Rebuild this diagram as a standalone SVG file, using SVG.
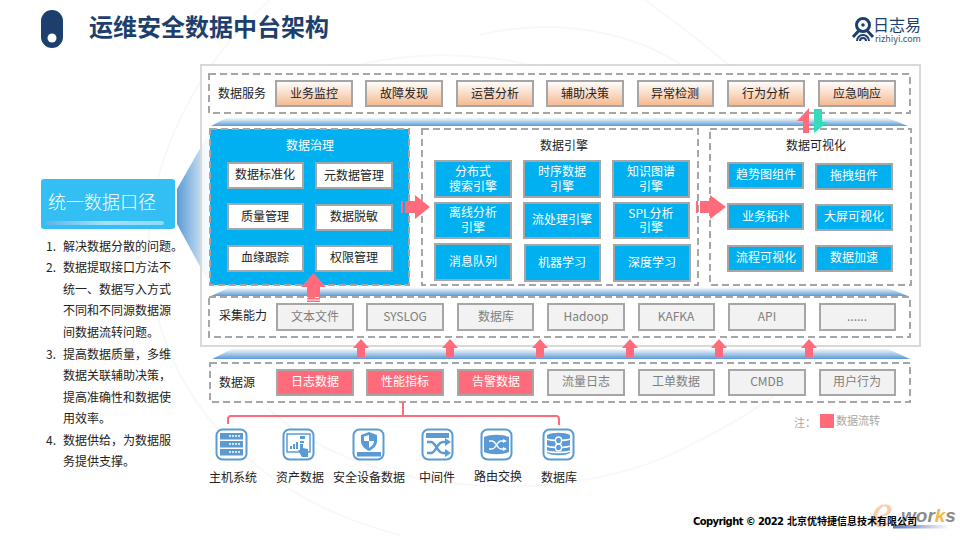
<svg xmlns="http://www.w3.org/2000/svg" width="960" height="540" viewBox="0 0 960 540">
<style>
text{font-family:"Noto Sans CJK SC","Noto Sans",sans-serif;font-size:12px;text-anchor:middle;fill:#222}
.dash{fill:none;stroke:#a6a6a6;stroke-width:2;stroke-dasharray:7 4}
.svc{fill:url(#svcG);stroke:#a6a6a6;stroke-width:2}
.col{fill:#f2f2f2;stroke:#a6a6a6;stroke-width:2}
.hot{fill:#ff6b7a;stroke:#a6a6a6;stroke-width:2}
.wht{fill:#fff;stroke:#a6a6a6;stroke-width:2}
.blu{fill:#00b0f0;stroke:#a6a6a6;stroke-width:2}
.g{fill:#7f7f7f}
.w{fill:#fff}
.l{text-anchor:start}
.flow{fill:#ff6b7a}
.ic{fill:#fff;stroke:#5b9bd5;stroke-width:2}
.if{fill:#5b9bd5}
.is{fill:none;stroke:#fff;stroke-width:1.4}
.bg{fill:none;stroke:#f8f8f8;stroke-width:2}
</style>
<defs>
<linearGradient id="svcG" x1="0" y1="0" x2="0" y2="1"><stop offset="0" stop-color="#fff"/><stop offset="1" stop-color="#f4b88e"/></linearGradient>
<linearGradient id="band" x1="0" y1="0" x2="0" y2="1"><stop offset="0" stop-color="#f4f8fc"/><stop offset="1" stop-color="#5b9bd5"/></linearGradient>
<linearGradient id="fun" x1="0" y1="0" x2="1" y2="0"><stop offset="0" stop-color="#5b9bd5"/><stop offset="1" stop-color="#e8f2fb"/></linearGradient>
<linearGradient id="bar" x1="0" y1="0" x2="1" y2="0"><stop offset="0" stop-color="#5fb4e6"/><stop offset=".5" stop-color="#a5e0fa"/><stop offset="1" stop-color="#8fd8f8"/></linearGradient>
<linearGradient id="ew" x1="0" y1="0" x2="1" y2="0"><stop offset="0" stop-color="#5a74b8"/><stop offset="1" stop-color="#fff"/></linearGradient>
<polygon id="up" points="0,0 8,9 4,9 4,18 -4,18 -4,9 -8,9" class="flow"/>
</defs>

<g id="background">
<path class="bg" d="M270 0C190 70 140 180 150 270C160 400 260 500 400 535"/>
<path class="bg" d="M320 75C430 40 560 50 640 120"/>
<path class="bg" d="M645 0C700 40 725 62 730 66"/>
<path class="bg" d="M260 400C340 490 560 520 700 440C760 410 800 380 830 340"/>
<path class="bg" d="M0 35C60 20 140 25 200 64" transform="translate(480 0)"/>
</g>

<g id="title">
<rect x="41" y="10" width="22" height="38" rx="11" fill="#1c3f6e"/>
<circle cx="52" cy="38" r="4.500" fill="#fff"/>
<text x="209" y="36" style="font-size:24px;font-weight:700;fill:#1c3f6e">运维安全数据中台架构</text>
</g>

<g id="logo">
<circle cx="863" cy="25" r="6.500" fill="none" stroke="#1c3f6e" stroke-width="3"/>
<circle cx="863" cy="25" r="1.800" fill="#1c3f6e"/>
<path d="M858.500 31L853 37M867.500 31L873 37" stroke="#1c3f6e" stroke-width="3" fill="none"/>
<path d="M857 41A6 6 0 0 1 869 41M860 41A3 3 0 0 1 866 41" fill="none" stroke="#1c3f6e" stroke-width="2"/>
<text x="897" y="31" style="font-size:16px;fill:#1c3f6e">日志易</text>
<text x="898" y="42" style="font-size:9px;fill:#44546a">rizhiyi.com</text>
</g>

<g id="callout">
<polygon points="177,189 210,131 210,285 177,224" fill="url(#fun)"/>
<rect x="41" y="179" width="134" height="50" rx="3" fill="#33bff3"/>
<rect x="45" y="221" width="119" height="4" rx="2" fill="url(#bar)"/>
<text x="102" y="209" style="font-size:18px;font-weight:300;fill:#fff">统一数据口径</text>
</g>

<g id="notes">
<text class="l" x="46" y="251">1.</text><text class="l" x="63" y="251">解决数据分散的问题。</text>
<text class="l" x="46" y="272">2.</text><text class="l" x="63" y="272">数据提取接口方法不</text>
<text class="l" x="63" y="294">统一、数据写入方式</text>
<text class="l" x="63" y="315">不同和不同源数据源</text>
<text class="l" x="63" y="337">间数据流转问题。</text>
<text class="l" x="46" y="359">3.</text><text class="l" x="63" y="359">提高数据质量，多维</text>
<text class="l" x="63" y="380">数据关联辅助决策，</text>
<text class="l" x="63" y="402">提高准确性和数据使</text>
<text class="l" x="63" y="423">用效率。</text>
<text class="l" x="46" y="445">4.</text><text class="l" x="63" y="445">数据供给，为数据服</text>
<text class="l" x="63" y="466">务提供支撑。</text>
</g>

<rect id="frame" x="201" y="65" width="719" height="281" fill="#fff" fill-opacity=".75" stroke="#d9d9d9" stroke-width="2"/>

<g id="bands">
<polygon points="226,118 888,118 908,126 211,126" fill="url(#band)"/>
<polygon points="228,288 888,288 908,296 211,296" fill="url(#band)"/>
<polygon points="232,349 888,349 910,359 212,359" fill="url(#band)"/>
</g>

<g id="data-service">
<rect class="dash" x="209" y="74" width="701" height="39"/>
<text x="242" y="98">数据服务</text>
<g id="s1"><rect class="svc" x="276" y="81" width="76" height="25"/><text x="314" y="98">业务监控</text></g>
<g id="s2"><rect class="svc" x="366" y="81" width="76" height="25"/><text x="404" y="98">故障发现</text></g>
<g id="s3"><rect class="svc" x="457" y="81" width="76" height="25"/><text x="495" y="98">运营分析</text></g>
<g id="s4"><rect class="svc" x="547" y="81" width="76" height="25"/><text x="585" y="98">辅助决策</text></g>
<g id="s5"><rect class="svc" x="638" y="81" width="75" height="25"/><text x="675" y="98">异常检测</text></g>
<g id="s6"><rect class="svc" x="728" y="81" width="76" height="25"/><text x="766" y="98">行为分析</text></g>
<g id="s7"><rect class="svc" x="819" y="81" width="76" height="25"/><text x="857" y="98">应急响应</text></g>
</g>

<g id="governance">
<rect x="210" y="129" width="199" height="156" fill="#00b0f0"/>
<rect class="dash" x="210" y="129" width="199" height="156"/>
<text class="w" x="310" y="150">数据治理</text>
<g id="g1"><rect class="wht" x="228" y="163" width="75" height="25"/><text x="265" y="179">数据标准化</text></g>
<g id="g2"><rect class="wht" x="316" y="163" width="76" height="25"/><text x="354" y="180">元数据管理</text></g>
<g id="g3"><rect class="wht" x="228" y="204" width="75" height="25"/><text x="265" y="221">质量管理</text></g>
<g id="g4"><rect class="wht" x="316" y="205" width="76" height="25"/><text x="354" y="221">数据脱敏</text></g>
<g id="g5"><rect class="wht" x="228" y="246" width="75" height="25"/><text x="265" y="262">血缘跟踪</text></g>
<g id="g6"><rect class="wht" x="316" y="246" width="76" height="25"/><text x="354" y="262">权限管理</text></g>
</g>

<g id="engine">
<rect class="dash" x="422" y="129" width="276" height="156"/>
<text x="564" y="150">数据引擎</text>
<g id="e1"><rect class="blu" x="435" y="161" width="76" height="36"/><text class="w" x="473" y="176">分布式</text><text class="w" x="473" y="191">搜索引擎</text></g>
<g id="e2"><rect class="blu" x="524" y="161" width="76" height="36"/><text class="w" x="562" y="176">时序数据</text><text class="w" x="562" y="191">引擎</text></g>
<g id="e3"><rect class="blu" x="613" y="161" width="76" height="36"/><text class="w" x="651" y="176">知识图谱</text><text class="w" x="651" y="191">引擎</text></g>
<g id="e4"><rect class="blu" x="435" y="203" width="76" height="35"/><text class="w" x="473" y="217">离线分析</text><text class="w" x="473" y="232">引擎</text></g>
<g id="e5"><rect class="blu" x="524" y="203" width="76" height="35"/><text class="w" x="562" y="224">流处理引擎</text></g>
<g id="e6"><rect class="blu" x="614" y="203" width="75" height="35"/><text class="w" x="651" y="218">SPL分析</text><text class="w" x="651" y="232">引擎</text></g>
<g id="e7"><rect class="blu" x="435" y="244" width="76" height="36"/><text class="w" x="473" y="266">消息队列</text></g>
<g id="e8"><rect class="blu" x="525" y="245" width="75" height="36"/><text class="w" x="562" y="267">机器学习</text></g>
<g id="e9"><rect class="blu" x="614" y="245" width="76" height="36"/><text class="w" x="652" y="267">深度学习</text></g>
</g>

<g id="visualization">
<rect class="dash" x="710" y="129" width="201" height="156"/>
<text x="816" y="150">数据可视化</text>
<g id="v1"><rect class="blu" x="728" y="163" width="75" height="25"/><text class="w" x="766" y="179">趋势图组件</text></g>
<g id="v2"><rect class="blu" x="816" y="164" width="76" height="25"/><text class="w" x="854" y="180">拖拽组件</text></g>
<g id="v3"><rect class="blu" x="728" y="204" width="75" height="25"/><text class="w" x="766" y="221">业务拓扑</text></g>
<g id="v4"><rect class="blu" x="816" y="205" width="76" height="25"/><text class="w" x="854" y="221">大屏可视化</text></g>
<g id="v5"><rect class="blu" x="728" y="246" width="75" height="25"/><text class="w" x="766" y="262">流程可视化</text></g>
<g id="v6"><rect class="blu" x="816" y="246" width="76" height="25"/><text class="w" x="854" y="262">数据加速</text></g>
</g>

<g id="collection">
<rect class="dash" x="209" y="297" width="701" height="40"/>
<text x="243" y="320">采集能力</text>
<g id="c1"><rect class="col" x="277" y="304" width="76" height="26"/><text class="g" x="315" y="321">文本文件</text></g>
<g id="c2"><rect class="col" x="367" y="304" width="76" height="26"/><text class="g" x="405" y="321">SYSLOG</text></g>
<g id="c3"><rect class="col" x="458" y="304" width="75" height="26"/><text class="g" x="496" y="321">数据库</text></g>
<g id="c4"><rect class="col" x="548" y="304" width="76" height="26"/><text class="g" x="586" y="321">Hadoop</text></g>
<g id="c5"><rect class="col" x="639" y="304" width="75" height="26"/><text class="g" x="676" y="321">KAFKA</text></g>
<g id="c6"><rect class="col" x="729" y="304" width="76" height="26"/><text class="g" x="767" y="321">API</text></g>
<g id="c7"><rect class="col" x="820" y="304" width="75" height="26"/><text class="g" x="857" y="321">......</text></g>
</g>

<g id="sources">
<rect class="dash" x="210" y="363" width="700" height="39"/>
<text x="237" y="387">数据源</text>
<g id="d1"><rect class="hot" x="277" y="370" width="76" height="25"/><text class="w" x="315" y="386">日志数据</text></g>
<g id="d2"><rect class="hot" x="367" y="370" width="76" height="25"/><text class="w" x="405" y="386">性能指标</text></g>
<g id="d3"><rect class="hot" x="458" y="370" width="75" height="25"/><text class="w" x="496" y="386">告警数据</text></g>
<g id="d4"><rect class="col" x="548" y="370" width="76" height="25"/><text class="g" x="586" y="386">流量日志</text></g>
<g id="d5"><rect class="col" x="639" y="370" width="75" height="25"/><text class="g" x="676" y="386">工单数据</text></g>
<g id="d6"><rect class="col" x="729" y="370" width="76" height="25"/><text class="g" x="767" y="386">CMDB</text></g>
<g id="d7"><rect class="col" x="820" y="370" width="75" height="25"/><text class="g" x="857" y="386">用户行为</text></g>
</g>

<g id="connectors">
<path d="M228 424V419Q228 416 231 416H556Q559 416 559 419V425M403 402V416" fill="none" stroke="#ff6b7a" stroke-width="2"/>
<polygon class="flow" points="401,201 403,201 403,213 401,213"/>
<polygon class="flow" points="405,201 415,201 415,195 430,207 415,219 415,213 405,213"/>
<polygon class="flow" points="696,201 698,201 698,213 696,213"/>
<polygon class="flow" points="700,201 710,201 710,195 726,207 710,219 710,213 700,213"/>
<polygon class="flow" points="313.500,273 326,287 320,287 320,297 307,297 307,287 301,287"/>
<rect class="flow" x="307" y="298" width="13" height="1.500"/><rect class="flow" x="307" y="300.500" width="13" height="1.500"/>
<use href="#up" x="361" y="339"/><use href="#up" x="450" y="339"/><use href="#up" x="540" y="339"/><use href="#up" x="630" y="339"/><use href="#up" x="719" y="339"/><use href="#up" x="809" y="339"/>
<polygon points="809,108 809,133 803,133 803,121 797,121" fill="#ff6b7a"/>
<polygon points="814,109 822,109 822,122 828,122 814,133" fill="#34dcb9"/>
</g>

<g id="host"><rect class="ic" x="216.500" y="429.500" width="30" height="30" rx="6"/>
<rect class="if" x="220" y="433" width="23" height="6.500"/><rect class="if" x="220" y="441" width="23" height="6.500"/><rect class="if" x="220" y="449" width="23" height="6.500"/>
<path class="is" stroke-dasharray="2 1" d="M229 436H241M229 444H241M229 452H241"/>
<text x="233" y="482">主机系统</text></g>

<g id="asset"><rect class="ic" x="283.500" y="429.500" width="30" height="30" rx="6"/>
<rect x="287" y="434" width="23" height="18" fill="none" stroke="#5b9bd5" stroke-width="1.500"/>
<path d="M290 446h2v3h-2zM293 444h2v5h-2zM296 442h2v7h-2z" fill="#5b9bd5"/>
<path d="M300 436h5v3h-5zM300 441h4v2h-4z" fill="#5b9bd5"/>
<polygon class="if" points="300,444 303,444 303,448 308,449 308,457 302,457 298,450 300,450"/>
<text x="300" y="482">资产数据</text></g>

<g id="security"><rect class="ic" x="353.500" y="429.500" width="30" height="30" rx="6"/>
<path class="if" d="M369 432L377 435V441C377 446 373 449 369 451C365 449 361 446 361 441V435Z"/>
<path fill="#fff" d="M369 435V441H374C374 444 372 446 369 448V441H364V436.500Z"/>
<rect class="if" x="357" y="452" width="24" height="4.500"/>
<text x="369" y="482">安全设备数据</text></g>

<g id="middleware"><rect class="ic" x="422.500" y="429.500" width="30" height="30" rx="6"/>
<rect class="if" x="426" y="433" width="23" height="5"/>
<path d="M427 442H431C436 442 437 453 443 453H447M427 453H431C436 453 437 442 443 442H447" fill="none" stroke="#5b9bd5" stroke-width="2.500"/>
<polygon class="if" points="445,438 451,442 445,446"/><polygon class="if" points="445,449 451,453 445,457"/>
<text x="437" y="482">中间件</text></g>

<g id="router"><rect class="ic" x="481.500" y="429.500" width="30" height="30" rx="6"/>
<path class="if" d="M484 437C491 434 502 434 509 437V452C502 455 491 455 484 452Z"/>
<path class="is" d="M489 441H492C496 441 497 449 501 449H505M489 449H492C496 449 497 441 501 441H505"/>
<polygon points="503,439 507,441 503,443" fill="#fff"/><polygon points="503,447 507,449 503,451" fill="#fff"/>
<text x="498" y="481">路由交换</text></g>

<g id="database"><rect class="ic" x="543.500" y="429.500" width="30" height="30" rx="6"/>
<path class="if" d="M547 435C552 432 565 432 570 435V453C565 456 552 456 547 453Z"/>
<path class="is" d="M547 439C552 441 565 441 570 439M547 446C552 448 565 448 570 446M547 451C552 453 565 453 570 451" stroke-width=".8"/>
<rect x="555.500" y="437" width="6" height="7" rx="3" fill="#5b9bd5" stroke="#fff" stroke-width="1.300"/>
<rect x="555.500" y="444" width="6" height="7" rx="3" fill="#5b9bd5" stroke="#fff" stroke-width="1.300"/>
<text x="559" y="482">数据库</text></g>

<g id="legend">
<text x="805" y="427" style="fill:#a6a6a6;font-size:11px">注：</text>
<rect x="820" y="414" width="14" height="14" fill="#ff6b7a"/>
<text x="858" y="425" style="fill:#a6a6a6;font-size:11px">数据流转</text>
</g>

<g id="footer">
<text x="882" y="527" style="font-family:'Liberation Serif',serif;font-size:48px;font-style:italic;fill:#f4a460;opacity:.55">e</text>
<text class="l" x="901" y="522" style="font-family:'Liberation Sans',sans-serif;font-size:19px;font-style:italic;font-weight:700;fill:#8c8c8c">wor<tspan fill="#f7b54a">k</tspan>s</text>
<rect x="893" y="525" width="57" height="3.500" fill="url(#ew)"/>
<text class="l" x="693" y="525" textLength="91" style="font-family:'DejaVu Sans',sans-serif;font-size:10px;font-weight:700;fill:#000">Copyright © 2022</text>
<text class="l" x="787" y="525" style="font-size:10px;font-weight:700;fill:#000">北京优特捷信息技术有限公司</text>
</g>
</svg>
